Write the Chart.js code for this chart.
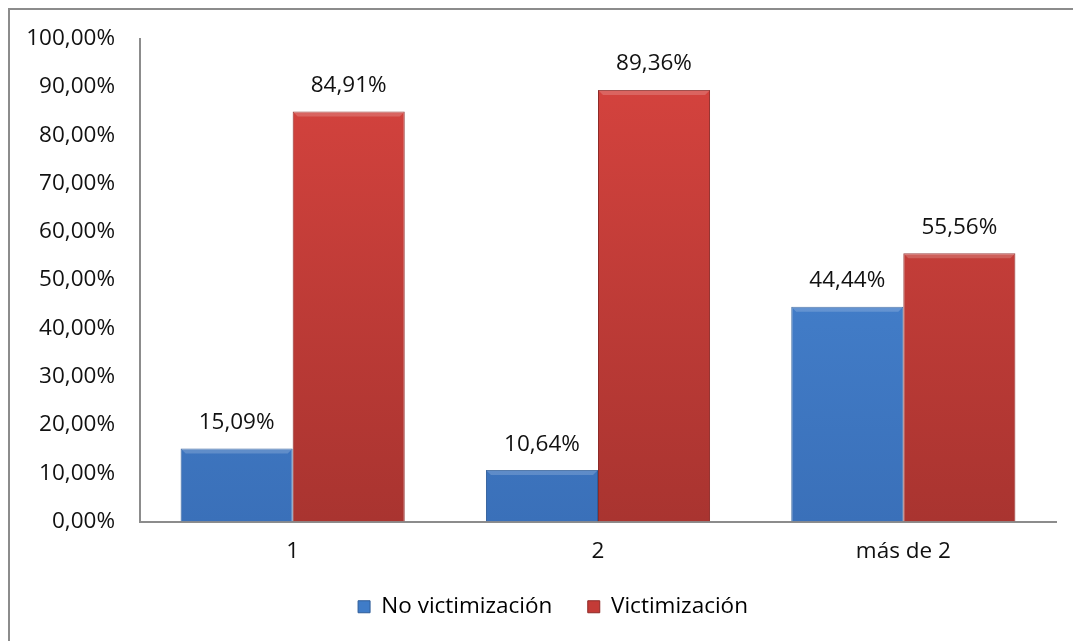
<!DOCTYPE html>
<html>
<head>
<meta charset="utf-8">
<script src="https://cdn.jsdelivr.net/npm/chart.js@4/dist/chart.umd.min.js"></script>
<style>
  html, body { margin: 0; padding: 0; background: #fff; overflow: hidden; }
  #frame { position: absolute; left: 8px; top: 8px; width: 1100px; height: 700px; border: 2px solid #8c8c8c; box-sizing: border-box; }
  #wrap { position: absolute; left: 0; top: 0; width: 1073px; height: 641px; }
</style>
</head>
<body>
<div id="frame"></div>
<div id="wrap"><canvas id="chart"></canvas></div>
<script>
const categories = ["1", "2", "más de 2"];
const noVictimizacion = [15.09, 10.64, 44.44];
const victimizacion = [84.91, 89.36, 55.56];
const seriesNames = ["No victimización", "Victimización"];

const fmt = v => v.toFixed(2).replace(".", ",") + "%";
const fontFamily = "'Open Sans', 'Liberation Sans', sans-serif";
const fontSize = 22.5;

function vGrad(ctx, top, bottom) {
    const chart = ctx.chart;
    const area = chart.chartArea;
    if (!area) return bottom;
    const g = chart.ctx.createLinearGradient(0, area.top, 0, area.bottom);
    g.addColorStop(0, top);
    g.addColorStop(1, bottom);
    return g;
}

const valueLabels = {
    id: "valueLabels",
    beforeDraw(chart) {
        // centre the legend under the plot rather than the whole canvas
        chart.legend.left = 50;
    },
    afterDatasetsDraw(chart) {
        const ctx = chart.ctx;
        ctx.save();
        chart.data.datasets.forEach((ds, i) => {
            chart.getDatasetMeta(i).data.forEach((bar, j) => {
                // soft bevel on the top edge
                const half = bar.width / 2;
                ctx.fillStyle = "rgba(255,255,255,0.18)";
                ctx.beginPath();
                ctx.moveTo(bar.x - half, bar.y);
                ctx.lineTo(bar.x + half, bar.y);
                ctx.lineTo(bar.x + half - 5, bar.y + 5);
                ctx.lineTo(bar.x - half + 5, bar.y + 5);
                ctx.closePath();
                ctx.fill();
                ctx.fillStyle = "#111";
                ctx.font = fontSize + "px " + fontFamily;
                ctx.textAlign = "center";
                ctx.textBaseline = "middle";
                ctx.fillText(fmt(ds.data[j]), bar.x, bar.y - 26);
            });
        });
        ctx.restore();
    }
};

new Chart(document.getElementById("chart"), {
    type: "bar",
    data: {
        labels: categories,
        datasets: [{
            label: seriesNames[0],
            data: noVictimizacion,
            backgroundColor: ctx => vGrad(ctx, "#4b8bd9", "#3a70b9"),
            borderColor: "#2f5d99",
            borderWidth: 1,
            categoryPercentage: 0.734,
            barPercentage: 1
        }, {
            label: seriesNames[1],
            data: victimizacion,
            backgroundColor: ctx => vGrad(ctx, "#d8443f", "#a93430"),
            borderColor: "#8e2a27",
            borderWidth: 1,
            categoryPercentage: 0.734,
            barPercentage: 1
        }]
    },
    options: {
        responsive: true,
        maintainAspectRatio: false,
        animation: false,
        layout: { padding: { top: 38, right: 17, bottom: 13, left: 0 } },
        plugins: {
            legend: {
                position: "bottom",
                labels: {
                    font: { family: fontFamily, size: fontSize },
                    color: "#111",
                    boxWidth: 12,
                    boxHeight: 12,
                    padding: 12,
                    generateLabels(chart) {
                        return chart.data.datasets.map((ds, i) => ({
                            text: i === 0 ? ds.label + "    " : ds.label,
                            fillStyle: i === 0 ? "#3f7cc8" : "#c43b37",
                            strokeStyle: i === 0 ? "#2f5d99" : "#8e2a27",
                            lineWidth: 1,
                            datasetIndex: i,
                            hidden: false
                        }));
                    }
                }
            },
            tooltip: { enabled: false }
        },
        scales: {
            x: {
                grid: { display: false, drawTicks: false },
                border: { display: true, color: "#8c8c8c", width: 2 },
                ticks: { font: { family: fontFamily, size: fontSize }, color: "#111", padding: 17 },
                afterFit(scale) { scale.height = 62; }
            },
            y: {
                min: 0,
                max: 100,
                grid: { display: false, drawTicks: false },
                border: { display: true, color: "#8c8c8c", width: 2 },
                ticks: {
                    stepSize: 10,
                    font: { family: fontFamily, size: fontSize },
                    color: "#111",
                    padding: 25,
                    callback: v => fmt(v)
                },
                afterFit(scale) { scale.width = 140; }
            }
        }
    },
    plugins: [valueLabels]
});
</script>
</body>
</html>
